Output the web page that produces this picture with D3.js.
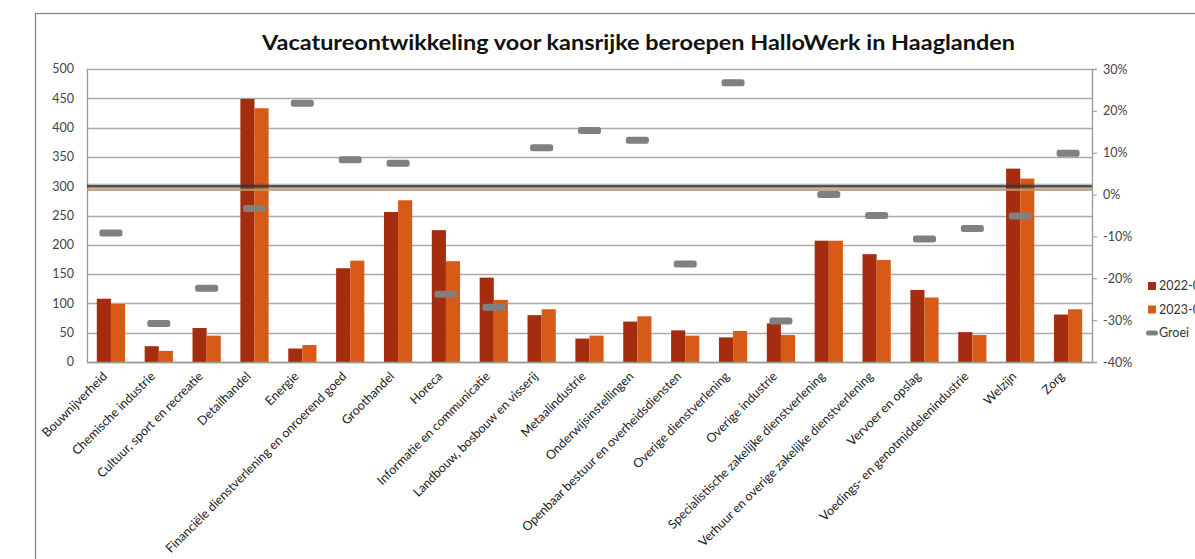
<!DOCTYPE html>
<html>
<head>
<meta charset="utf-8">
<script src="https://cdn.jsdelivr.net/npm/d3@7"></script>
<style>
  body { margin: 0; background: #fff; }
  text { font-family: Lato, "Open Sans", sans-serif; }
</style>
</head>
<body>
<div id="chart"></div>
<script>
// data
var categories = ["Bouwnijverheid", "Chemische industrie", "Cultuur, sport en recreatie", "Detailhandel", "Energie",
  "Financiële dienstverlening en onroerend goed", "Groothandel", "Horeca", "Informatie en communicatie",
  "Landbouw, bosbouw en visserij", "Metaalindustrie", "Onderwijsinstellingen", "Openbaar bestuur en overheidsdiensten",
  "Overige dienstverlening", "Overige industrie", "Specialistische zakelijke dienstverlening",
  "Verhuur en overige zakelijke dienstverlening", "Vervoer en opslag", "Voedings- en genotmiddelenindustrie",
  "Welzijn", "Zorg"];
var v2022 = [108, 27, 58, 449, 23, 160, 256, 225, 144, 80, 40, 69, 54, 42, 66, 207, 184, 123, 51, 330, 81];
var v2023 = [99, 19, 45, 433, 29, 173, 276, 172, 106, 90, 45, 78, 45, 53, 46, 207, 174, 110, 46, 313, 90];
var groei = [-9.2, -30.8, -22.4, -3.3, 21.8, 8.3, 7.5, -23.8, -26.9, 11.2, 15.3, 13.0, -16.6, 26.7, -30.2, 0, -5.0, -10.6, -8.1, -5.1, 9.9];
var leftTicks = [0, 50, 100, 150, 200, 250, 300, 350, 400, 450, 500];
var rightTicks = [-40, -30, -20, -10, 0, 10, 20, 30];
var seriesNames = ["2022-09", "2023-09", "Groei"];
var avgLine = 300; // the thick line crossing the chart

var W = 1195, H = 559;
var margin = {top: 69, left: 87, right: 103, bottom: 197};
var width = W - margin.left - margin.right,
    height = H - margin.top - margin.bottom;

var svg = d3.select("#chart").append("svg")
  .attr("width", W).attr("height", H);

// outer frame
svg.append("rect")
  .attr("x", 35.5).attr("y", 13.5)
  .attr("width", 1200).attr("height", 600)
  .attr("fill", "none").attr("stroke", "#888").attr("stroke-width", 1.3);

svg.append("text")
  .attr("x", 262).attr("y", 50)
  .attr("font-size", 21).attr("font-weight", "bold").attr("fill", "#111")
  .attr("textLength", 753).attr("lengthAdjust", "spacingAndGlyphs")
  .text("Vacatureontwikkeling voor kansrijke beroepen HalloWerk in Haaglanden");

var g = svg.append("g")
  .attr("transform", "translate(" + margin.left + "," + margin.top + ")");

var x = d3.scaleBand().domain(categories).range([0, width]).paddingInner(0.41).paddingOuter(0.205);
var x1 = d3.scaleBand().domain([0, 1]).range([0, x.bandwidth()]);
var y = d3.scaleLinear().domain([0, 500]).range([height, 0]);
var y2 = d3.scaleLinear().domain([-40, 30]).range([height, 0]);

// gridlines
g.append("g").selectAll("line").data(leftTicks).enter().append("line")
  .attr("x1", 0).attr("x2", width)
  .attr("y1", function (d) { return Math.round(y(d)) + 0.5; })
  .attr("y2", function (d) { return Math.round(y(d)) + 0.5; })
  .attr("stroke", "#aaa").attr("stroke-width", 1.3);

// left axis labels
g.append("g").selectAll("text").data(leftTicks).enter().append("text")
  .attr("x", -13).attr("y", function (d) { return y(d); })
  .attr("dy", "0.35em").attr("text-anchor", "end")
  .attr("font-size", 12.5).attr("fill", "#444")
  .text(function (d) { return d; });

// bars
var cols = ["#A52D0F", "#D85A17"];
var grp = g.append("g").selectAll("g").data(categories).enter().append("g")
  .attr("transform", function (d) { return "translate(" + x(d) + ",0)"; });
grp.append("rect")
  .attr("x", x1(0)).attr("width", x1.bandwidth())
  .attr("y", function (d, i) { return y(v2022[i]); })
  .attr("height", function (d, i) { return height - y(v2022[i]); })
  .attr("fill", cols[0]);
grp.append("rect")
  .attr("x", x1(1)).attr("width", x1.bandwidth())
  .attr("y", function (d, i) { return y(v2023[i]); })
  .attr("height", function (d, i) { return height - y(v2023[i]); })
  .attr("fill", cols[1]);

// axes lines
g.append("line").attr("x1", 0.5).attr("x2", 0.5).attr("y1", 0).attr("y2", height)
  .attr("stroke", "#999").attr("stroke-width", 1.3);
g.append("line").attr("x1", 0).attr("x2", width).attr("y1", height + 0.5).attr("y2", height + 0.5)
  .attr("stroke", "#999").attr("stroke-width", 1.5);

// right axis
var ra = g.append("g").attr("transform", "translate(" + width + ",0)")
  .call(d3.axisRight(y2).tickValues(rightTicks).tickSize(5).tickPadding(6)
    .tickFormat(function (d) { return d + "%"; }));
ra.select(".domain").attr("stroke", "#999").attr("stroke-width", 1.3);
ra.selectAll(".tick line").attr("stroke", "#999");
ra.selectAll(".tick text").attr("font-size", 12.5).attr("fill", "#444")
  .attr("font-family", "Lato, 'Open Sans', sans-serif");

// the thick line at 300 (soft halo, dark core, tan line under it)
g.append("line").attr("x1", 0).attr("x2", width)
  .attr("y1", y(avgLine) + 3.5).attr("y2", y(avgLine) + 3.5)
  .attr("stroke", "#C29A6E").attr("stroke-width", 2.5).attr("opacity", 0.85);
g.append("line").attr("x1", 0).attr("x2", width)
  .attr("y1", y(avgLine)).attr("y2", y(avgLine))
  .attr("stroke", "#444").attr("stroke-width", 6).attr("opacity", 0.18);
g.append("line").attr("x1", 0).attr("x2", width)
  .attr("y1", y(avgLine)).attr("y2", y(avgLine))
  .attr("stroke", "#333").attr("stroke-width", 2.8).attr("opacity", 0.75);

// groei markers
g.append("g").selectAll("rect").data(categories).enter().append("rect")
  .attr("x", function (d) { return x(d) + x.bandwidth() / 2 - 11.5; })
  .attr("y", function (d, i) { return y2(groei[i]) - 3.5; })
  .attr("width", 23).attr("height", 7).attr("rx", 2.5)
  .attr("fill", "#808080");

// category labels
g.append("g").selectAll("text").data(categories).enter().append("text")
  .attr("transform", function (d) {
    return "translate(" + (x(d) + x.bandwidth() / 2 - 6) + "," + (height + 12) + ") rotate(-45)";
  })
  .attr("text-anchor", "end").attr("dy", "0.35em")
  .attr("font-size", 12.5).attr("fill", "#222")
  .text(function (d) { return d; });

// legend
var lg = svg.append("g").attr("transform", "translate(1146,286)");
var items = lg.selectAll("g").data(seriesNames).enter().append("g")
  .attr("transform", function (d, i) { return "translate(0," + (i * 23.5) + ")"; });
items.each(function (d, i) {
  var s = d3.select(this);
  if (i < 2) {
    s.append("rect").attr("x", 2).attr("y", -4).attr("width", 8).attr("height", 8).attr("fill", cols[i]);
  } else {
    s.append("rect").attr("x", 0).attr("y", -2.5).attr("width", 12).attr("height", 5).attr("rx", 2.5).attr("fill", "#808080");
  }
  s.append("text").attr("x", 13).attr("dy", "0.35em")
    .attr("font-size", 12.5).attr("fill", "#333").text(d);
});
</script>
</body>
</html>
